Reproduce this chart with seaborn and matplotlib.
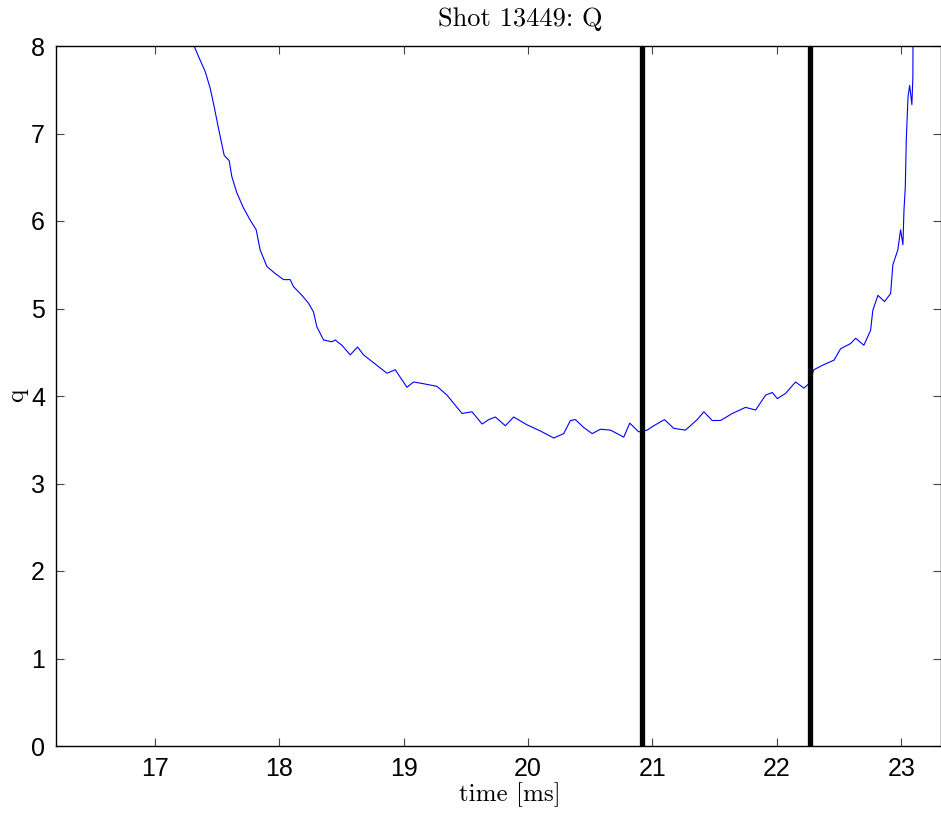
"""Shot 13449: safety factor q vs time, with two marker lines."""
import matplotlib
matplotlib.use("Agg")
import matplotlib.pyplot as plt
import numpy as np
import pandas as pd
import seaborn as sns

# q trace
time_ms = [17.30, 17.319, 17.364, 17.405, 17.445, 17.477, 17.512, 17.558, 17.598, 17.619,
           17.66, 17.713, 17.767, 17.815, 17.847, 17.901, 17.968, 18.035, 18.089, 18.115,
           18.183, 18.236, 18.276, 18.303, 18.357, 18.424, 18.45, 18.504, 18.571, 18.630,
           18.678, 18.732, 18.813, 18.866, 18.933, 19.027, 19.08, 19.161, 19.269, 19.349,
           19.47, 19.55, 19.631, 19.684, 19.738, 19.818, 19.885, 19.993, 20.10, 20.207,
           20.287, 20.341, 20.381, 20.448, 20.516, 20.582, 20.663, 20.77, 20.818, 20.89,
           20.958, 21.011, 21.097, 21.172, 21.266, 21.36, 21.414, 21.481, 21.548, 21.642,
           21.749, 21.83, 21.91, 21.964, 22.004, 22.071, 22.151, 22.218, 22.258, 22.298,
           22.366, 22.46, 22.513, 22.594, 22.634, 22.70, 22.754, 22.772, 22.813, 22.866,
           22.915, 22.933, 22.973, 22.995, 23.014, 23.022, 23.033, 23.041, 23.055, 23.068,
           23.086, 23.094, 23.096]
q_vals = [8.30, 7.99, 7.84, 7.71, 7.52, 7.31, 7.06, 6.75, 6.69, 6.51,
          6.32, 6.15, 6.01, 5.90, 5.67, 5.48, 5.40, 5.33, 5.33, 5.25,
          5.15, 5.06, 4.96, 4.79, 4.64, 4.62, 4.64, 4.58, 4.47, 4.56,
          4.47, 4.41, 4.32, 4.26, 4.30, 4.10, 4.16, 4.14, 4.11, 4.01,
          3.80, 3.82, 3.68, 3.73, 3.76, 3.66, 3.76, 3.67, 3.60, 3.52,
          3.57, 3.72, 3.73, 3.64, 3.57, 3.62, 3.61, 3.53, 3.69, 3.59,
          3.61, 3.66, 3.73, 3.63, 3.61, 3.73, 3.82, 3.72, 3.72, 3.80,
          3.87, 3.84, 4.01, 4.04, 3.97, 4.03, 4.16, 4.09, 4.14, 4.30,
          4.35, 4.41, 4.54, 4.60, 4.66, 4.58, 4.75, 4.98, 5.15, 5.08,
          5.17, 5.50, 5.67, 5.90, 5.73, 6.11, 6.39, 6.93, 7.42, 7.55,
          7.33, 7.65, 8.60]

marker_times = [20.92, 22.27]
x_ticks = [17, 18, 19, 20, 21, 22, 23]
y_ticks = [0, 1, 2, 3, 4, 5, 6, 7, 8]

df = pd.DataFrame({"time": time_ms, "q": q_vals})

sns.set_style("ticks")
plt.rcParams["font.family"] = ["Liberation Sans", "DejaVu Sans"]

W, H = 941, 814
fig = plt.figure(figsize=(W / 100, H / 100), dpi=100)
ax = fig.add_axes([56 / W, (H - 746) / H, (941 - 56) / W, (746 - 46) / H])

sns.lineplot(data=df, x="time", y="q", color="#0000ff", lw=0.8, ax=ax,
             sort=False, estimator=None)
for t in marker_times:
    ax.axvline(t, color="black", lw=3.8, zorder=3)

ax.set_xlim(16.206, 23.32)
ax.set_ylim(0, 8)
ax.set_xticks(x_ticks)
ax.set_yticks(y_ticks)
ax.tick_params(direction="in", length=6, width=0.8, top=True, right=True,
               labelsize=18, color="#444444", labelcolor="black", pad=8)
for s in ax.spines.values():
    s.set_color("black")
    s.set_linewidth(1.0)
ax.set_xlabel("")
ax.set_ylabel("")

serif = ["cmr10", "DejaVu Serif"]
fig.text(520 / W, 1 - 19 / H, "Shot 13449: Q", ha="center", va="center",
         fontsize=19, family=serif, color="black")
fig.text(510 / W, 1 - 795 / H, "time [ms]", ha="center", va="center",
         fontsize=18, family=serif, color="black")
fig.text(17 / W, 1 - 395 / H, "q", ha="center", va="center", rotation=90,
         fontsize=18, family=serif, color="black")

fig.savefig("out.png", dpi=100)
plt.close(fig)
